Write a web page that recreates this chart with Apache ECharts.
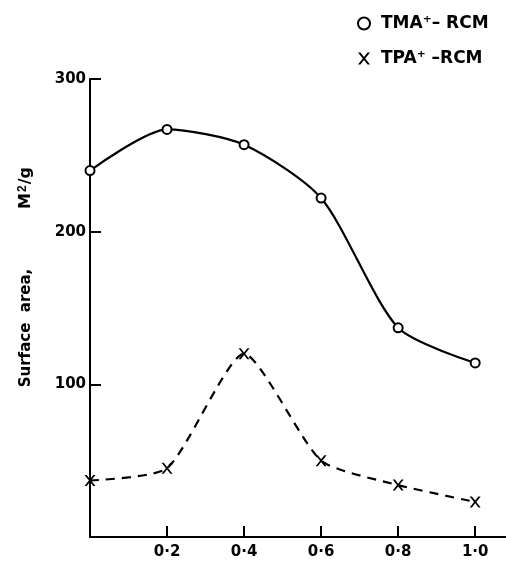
<!DOCTYPE html>
<html>
<head>
<meta charset="utf-8">
<script src="https://cdn.jsdelivr.net/npm/echarts@6/dist/echarts.min.js"></script>
<style>
  html, body { margin: 0; padding: 0; background: #fff; }
  #chart { width: 506px; height: 562px; }
</style>
</head>
<body>
<div id="chart"></div>
<script>
var xValues = [0, 0.2, 0.4, 0.6, 0.8, 1.0];
var tmaValues = [240, 267, 257, 222, 137, 114];
var tpaValues = [37, 45, 120, 50, 34, 23];
var xTicks = [0.2, 0.4, 0.6, 0.8, 1.0];
var xTickLabels = ['0·2', '0·4', '0·6', '0·8', '1·0'];
var yTicks = [100, 200, 300];

var crossPath = 'path://M0,0L2,0L5,3.8L8,0L10,0L6,5L10,10L8,10L5,6.2L2,10L0,10L4,5Z';
var font = 'DejaVu Sans';

function pairs(ys) {
    return xValues.map(function (x, i) { return [x, ys[i]]; });
}

var myChart = echarts.init(document.getElementById('chart'));
var option = {
    animation: false,
    textStyle: { fontFamily: font, color: '#000' },
    legend: {
        orient: 'vertical',
        left: 352,
        top: 10,
        itemGap: 18,
        itemWidth: 12,
        itemHeight: 12,
        textStyle: { fontSize: 17, fontWeight: 'bold', color: '#000', fontFamily: font, padding: [0, 0, 0, 6] },
        data: [
            { name: 'TMA⁺– RCM', icon: 'emptyCircle' },
            { name: 'TPA⁺ –RCM', icon: crossPath }
        ]
    },
    // y-axis title, placed off-centre like the original
    graphic: [
        {
            type: 'text',
            x: 26, y: 328,
            rotation: Math.PI / 2,
            style: {
                text: 'Surface  area,',
                font: 'bold 15px "DejaVu Sans"',
                fill: '#000',
                align: 'center',
                verticalAlign: 'middle'
            }
        },
        {
            type: 'text',
            x: 26, y: 188,
            rotation: Math.PI / 2,
            style: {
                text: 'M{s|2}/g',
                font: 'bold 16px "DejaVu Sans"',
                fill: '#000',
                align: 'center',
                verticalAlign: 'middle',
                rich: { s: { fontSize: 12, fontWeight: 'bold', verticalAlign: 'top', padding: [0, 1, 7, 1] } }
            }
        }
    ],
    grid: { left: 90, top: 79, right: 0, bottom: 25 },
    xAxis: {
        type: 'value',
        min: 0,
        max: 1.08,
        splitLine: { show: false },
        axisLine: { lineStyle: { color: '#000', width: 2 } },
        axisTick: {
            inside: true,
            length: 11,
            customValues: xTicks,
            lineStyle: { color: '#000', width: 2 }
        },
        axisLabel: {
            customValues: xTicks,
            margin: 8,
            fontSize: 15,
            fontWeight: 'bold',
            color: '#000',
            formatter: function (v) {
                return xTickLabels[xTicks.indexOf(Math.round(v * 10) / 10)] || '';
            }
        }
    },
    yAxis: {
        type: 'value',
        min: 0,
        max: 300,
        splitLine: { show: false },
        axisLine: { lineStyle: { color: '#000', width: 2 } },
        axisTick: {
            inside: true,
            length: 11,
            customValues: yTicks,
            lineStyle: { color: '#000', width: 2 }
        },
        axisLabel: {
            customValues: yTicks,
            margin: 4,
            fontSize: 15,
            fontWeight: 'bold',
            color: '#000'
        }
    },
    series: [
        {
            name: 'TMA⁺– RCM',
            type: 'line',
            smooth: 0.25,
            data: pairs(tmaValues),
            symbol: 'emptyCircle',
            symbolSize: 9,
            lineStyle: { color: '#000', width: 2.2 },
            itemStyle: { color: '#000', borderColor: '#000', borderWidth: 1.6 }
        },
        {
            name: 'TPA⁺ –RCM',
            type: 'line',
            smooth: 0.2,
            data: pairs(tpaValues),
            symbol: crossPath,
            symbolSize: 11,
            lineStyle: { color: '#000', width: 2.2, type: [9, 7] },
            itemStyle: { color: '#000' }
        }
    ]
};
myChart.setOption(option);
</script>
</body>
</html>
